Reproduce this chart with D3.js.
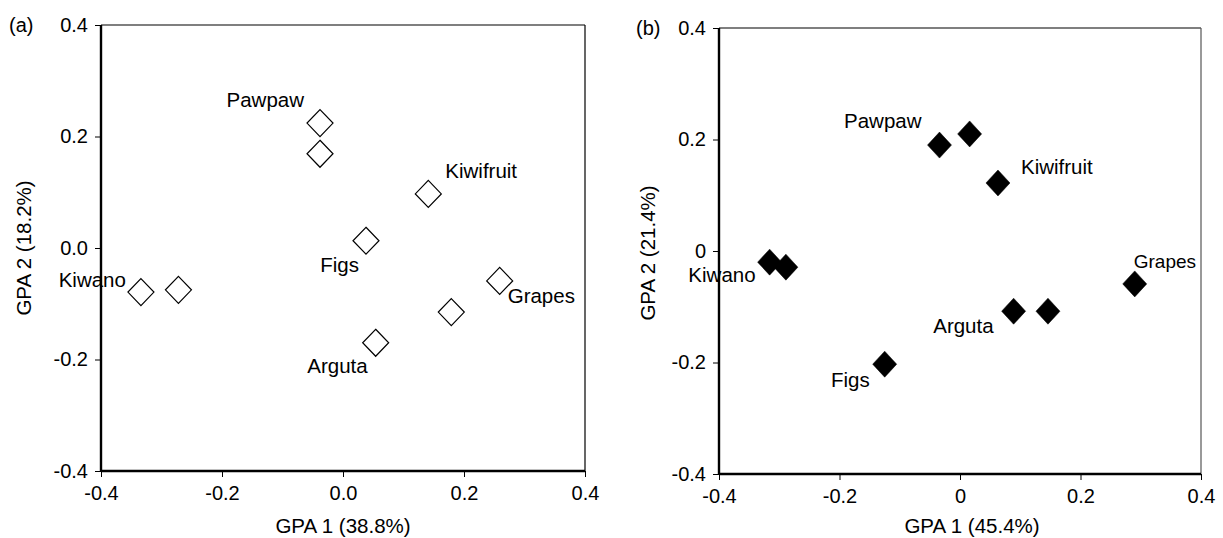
<!DOCTYPE html>
<html>
<head>
<meta charset="utf-8">
<script src="https://cdn.jsdelivr.net/npm/d3@7"></script>
<style>
  html, body { margin: 0; padding: 0; background: #fff; }
  svg { display: block; font-family: "Liberation Sans", Arial, sans-serif; }
</style>
</head>
<body>
<svg id="chart" width="1223" height="538"></svg>
<script>
// ---------- data ----------
const tickValues = [-0.4, -0.2, 0.0, 0.2, 0.4];
const xTickLabelsA = ["-0.4", "-0.2", "0.0", "0.2", "0.4"];
const yTickLabelsA = ["-0.4", "-0.2", "0.0", "0.2", "0.4"];
const xTickLabelsB = ["-0.4", "-0.2", "0", "0.2", "0.4"];
const yTickLabelsB = ["-0.4", "-0.2", "0", "0.2", "0.4"];

// panel (a)
const namesA = ["Pawpaw", "", "Kiwifruit", "Figs", "Kiwano", "", "Grapes", "", "Arguta"];
const gpa1A = [-0.038, -0.038, 0.141, 0.038, -0.334, -0.272, 0.259, 0.179, 0.054];
const gpa2A = [0.224, 0.169, 0.097, 0.013, -0.079, -0.075, -0.059, -0.115, -0.170];

// panel (b)
const namesB = ["Pawpaw", "", "Kiwifruit", "Kiwano", "", "Grapes", "Arguta", "", "Figs"];
const gpa1B = [-0.034, 0.016, 0.063, -0.316, -0.289, 0.290, 0.089, 0.146, -0.125];
const gpa2B = [0.190, 0.210, 0.122, -0.020, -0.029, -0.059, -0.108, -0.108, -0.203];

const xTitleA = "GPA 1 (38.8%)", yTitleA = "GPA 2 (18.2%)";
const xTitleB = "GPA 1 (45.4%)", yTitleB = "GPA 2 (21.4%)";

// ---------- layout (label placement: dx, dy from point, anchor, font size) ----------
const labelLayoutA = [
  [-16, -16, "end", 20.5], null, [17, -16, "start", 20.5], [-7, 31, "end", 20.5],
  [-15, -5, "end", 20.5], null, [8, 22, "start", 20.5], null, [-8, 30, "end", 20.5]
];
const labelLayoutB = [
  [-18, -17, "end", 20.5], null, [23, -9, "start", 20.5], [-14, 20, "end", 20.5],
  null, [-1, -16, "start", 19], [-20, 22, "end", 20.5], null, [-15, 23, "end", 20.5]
];

const panels = [
  { tag: "(a)", tagX: 9, tagY: 32, left: 101, right: 585, top: 25, bottom: 471,
    xs: gpa1A, ys: gpa2A, names: namesA, layout: labelLayoutA,
    xTicks: xTickLabelsA, yTicks: yTickLabelsA, xTitle: xTitleA, yTitle: yTitleA,
    xTitleX: 343, yTitleX: 24, yTitleY: 248, filled: false, rightColor: "#000" },
  { tag: "(b)", tagX: 636, tagY: 35, left: 719, right: 1201, top: 28, bottom: 474,
    xs: gpa1B, ys: gpa2B, names: namesB, layout: labelLayoutB,
    xTicks: xTickLabelsB, yTicks: yTickLabelsB, xTitle: xTitleB, yTitle: yTitleB,
    xTitleX: 972, yTitleX: 648, yTitleY: 253, filled: true, rightColor: "#555" }
];

const svg = d3.select("#chart");

panels.forEach(p => {
  const x = d3.scaleLinear().domain([-0.4, 0.4]).range([p.left, p.right]);
  const y = d3.scaleLinear().domain([-0.4, 0.4]).range([p.bottom, p.top]);
  const g = svg.append("g");

  // frame: top & right thin
  g.append("line").attr("x1", p.left).attr("x2", p.right).attr("y1", p.top).attr("y2", p.top)
    .attr("stroke", "#000").attr("stroke-width", 1.2);
  g.append("line").attr("x1", p.right).attr("x2", p.right).attr("y1", p.top).attr("y2", p.bottom)
    .attr("stroke", p.rightColor).attr("stroke-width", 1.2);

  // axes
  const xAxis = d3.axisBottom(x).tickValues(tickValues)
    .tickFormat((d, i) => p.xTicks[i]).tickSize(6).tickPadding(9);
  const yAxis = d3.axisLeft(y).tickValues(tickValues)
    .tickFormat((d, i) => p.yTicks[i]).tickSize(6).tickPadding(7);

  const gx = g.append("g").attr("transform", `translate(0,${p.bottom})`).call(xAxis);
  const gy = g.append("g").attr("transform", `translate(${p.left},0)`).call(yAxis);
  [gx, gy].forEach(a => {
    a.select(".domain").attr("stroke", "#000").attr("stroke-width", 2.4)
      .attr("d", null);
    a.selectAll(".tick line").attr("stroke", "#000").attr("stroke-width", 1);
    a.selectAll(".tick text").attr("fill", "#000").style("font-size", "20px")
      .style("font-family", "'Liberation Sans', Arial, sans-serif");
  });
  gx.select(".domain").remove();
  gy.select(".domain").remove();
  g.append("line").attr("x1", p.left).attr("x2", p.right).attr("y1", p.bottom).attr("y2", p.bottom)
    .attr("stroke", "#000").attr("stroke-width", 2.4);
  g.append("line").attr("x1", p.left).attr("x2", p.left).attr("y1", p.top).attr("y2", p.bottom)
    .attr("stroke", "#000").attr("stroke-width", 2.4);

  // markers
  const pts = p.xs.map((v, i) => ({ x: v, y: p.ys[i], name: p.names[i], lay: p.layout[i] }));
  const hw = p.filled ? 12 : 13, hh = p.filled ? 13 : 13.5;
  g.selectAll("path.pt").data(pts).enter().append("path")
    .attr("class", "pt")
    .attr("d", d => {
      const cx = x(d.x), cy = y(d.y);
      return `M${cx},${cy - hh}L${cx + hw},${cy}L${cx},${cy + hh}L${cx - hw},${cy}Z`;
    })
    .attr("fill", p.filled ? "#000" : "#fff")
    .attr("stroke", "#000")
    .attr("stroke-width", p.filled ? 0.5 : 1.2);

  // labels
  g.selectAll("text.lbl").data(pts.filter(d => d.name && d.lay)).enter().append("text")
    .attr("class", "lbl")
    .attr("x", d => x(d.x) + d.lay[0])
    .attr("y", d => y(d.y) + d.lay[1])
    .attr("text-anchor", d => d.lay[2])
    .style("font-size", d => d.lay[3] + "px")
    .attr("fill", "#000")
    .text(d => d.name);

  // titles
  g.append("text").attr("x", p.xTitleX).attr("y", 533).attr("text-anchor", "middle")
    .style("font-size", "20.5px").attr("fill", "#000").text(p.xTitle);
  g.append("text").attr("transform", `translate(${p.yTitleX + 7},${p.yTitleY}) rotate(-90)`)
    .attr("text-anchor", "middle").style("font-size", "20.5px").attr("fill", "#000").text(p.yTitle);

  // panel tag
  g.append("text").attr("x", p.tagX).attr("y", p.tagY).style("font-size", "20px")
    .attr("fill", "#000").text(p.tag);
});
</script>
</body>
</html>
